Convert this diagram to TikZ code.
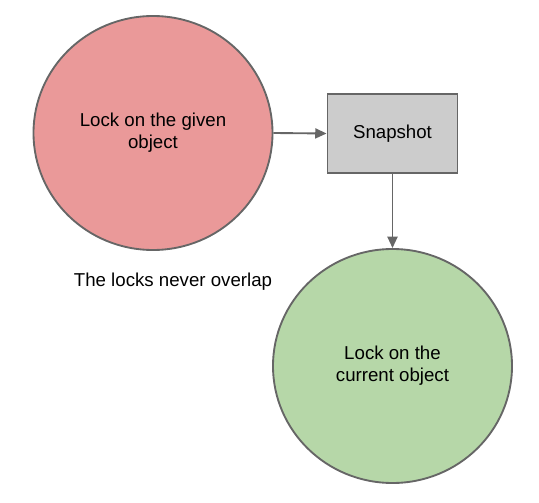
\documentclass[tikz,border=0pt]{standalone}
\usepackage{fontspec}
\setmainfont{Liberation Sans}
\usetikzlibrary{shapes.geometric,arrows.meta}
\definecolor{redfill}{HTML}{EA9999}
\definecolor{greenfill}{HTML}{B6D7A8}
\definecolor{grayfill}{HTML}{CCCCCC}
\definecolor{strokec}{HTML}{666666}
\newcommand{\twolines}[2]{\raisebox{-1.5pt}{\begin{tabular}{@{}c@{}}#1\\#2\end{tabular}}}
\begin{document}
\begin{tikzpicture}[x=0.75pt,y=-0.75pt,
  every node/.style={font=\fontsize{14}{16.5}\selectfont, align=center},
  lockshape/.style={ellipse, draw=strokec, line width=1.4pt, minimum width=239*0.75pt, minimum height=234*0.75pt, inner sep=0pt},
  boxshape/.style={rectangle, draw=strokec, fill=grayfill, line width=1.4pt, minimum width=130*0.75pt, minimum height=79*0.75pt, inner sep=0pt},
  conn/.style={draw=strokec, line width=1.4pt, -{Triangle[length=8.5pt,width=7.5pt]}}]
\useasboundingbox (0,0) rectangle (539,503);
\node[lockshape, fill=redfill] (given) at (153,133) {\twolines{Lock on the given}{object}};
\node[boxshape] (snap) at (392.5,133.5) {Snapshot};
\node[lockshape, fill=greenfill] (current) at (392.5,366) {\twolines{Lock on the}{current object}};
\node (note) at (173,282) {The locks never overlap};
\draw[conn] (given.east) -- (snap.west);
\draw[conn] (snap.south) -- (current.north);
\end{tikzpicture}
\end{document}
